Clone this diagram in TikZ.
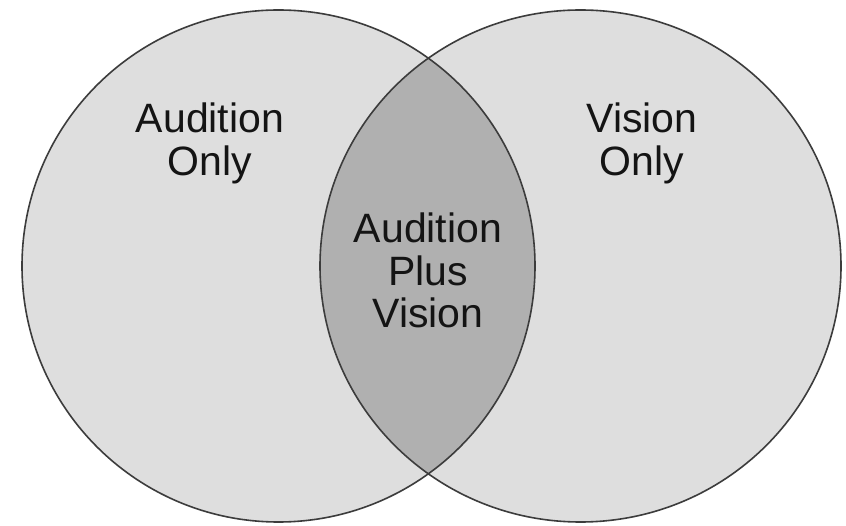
\documentclass[tikz,border=0pt]{standalone}
\usepackage{fontspec}
\setmainfont{Liberation Sans}
\definecolor{outerfill}{RGB}{222,222,222}
\definecolor{lensfill}{RGB}{176,176,176}
\definecolor{edge}{RGB}{60,60,60}
\begin{document}
\begin{tikzpicture}[x=1pt,y=-1pt,
  setlabel/.style={text width=220pt, align=center, anchor=base, inner sep=0pt,
    font=\fontsize{41}{42.5}\selectfont, text=black!92}]
\useasboundingbox (0,0) rectangle (846,526);
\fill[white] (0,0) rectangle (846,526);
\coordinate (cl) at (278.5,266);
\coordinate (cr) at (580.5,266);
% fills
\fill[outerfill] (cl) ellipse [x radius=256.5, y radius=256];
\fill[outerfill] (cr) ellipse [x radius=260.5, y radius=256];
\begin{scope}
  \clip (cl) ellipse [x radius=256.5, y radius=256];
  \fill[lensfill] (cr) ellipse [x radius=260.5, y radius=256];
\end{scope}
% outlines
\draw[edge, line width=1.6pt] (cl) ellipse [x radius=256.5, y radius=256];
\draw[edge, line width=1.6pt] (cr) ellipse [x radius=260.5, y radius=256];
% labels
\node[setlabel] (aud) at (210,133) {Audition\\Only};
\node[setlabel] (vis) at (642,133) {Vision\\Only};
\node[setlabel] (both) at (428,243) {Audition\\Plus\\Vision};
\end{tikzpicture}
\end{document}
